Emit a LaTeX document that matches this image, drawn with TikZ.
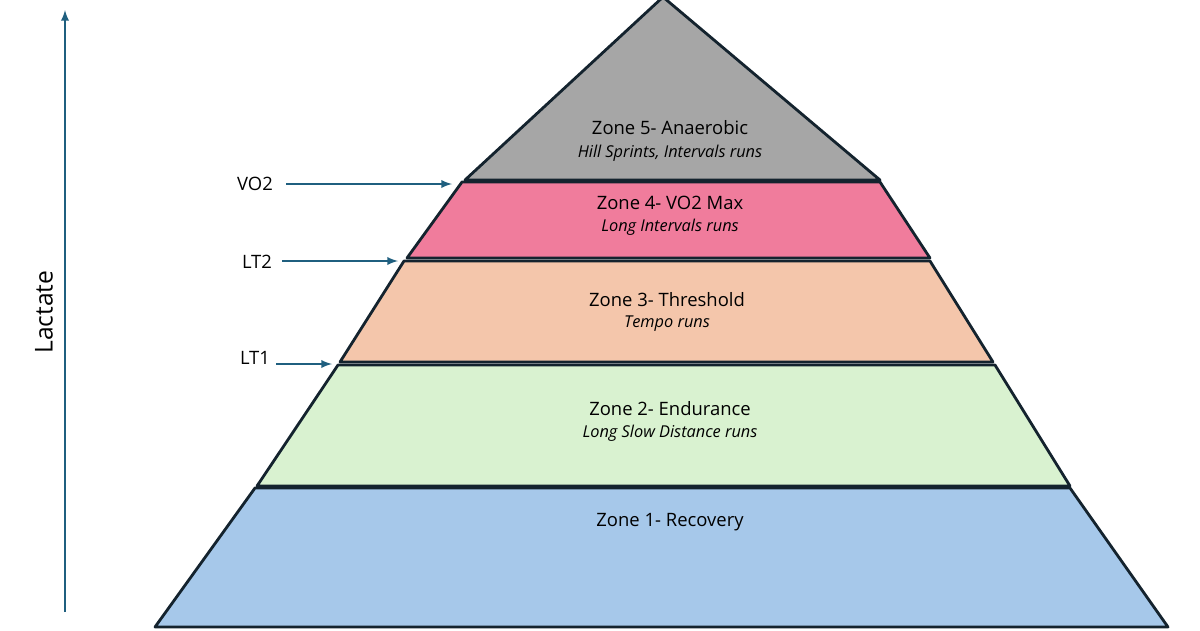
\documentclass[tikz,border=0pt]{standalone}
\usepackage{fontspec}
\setmainfont{Open Sans}
\definecolor{edge}{HTML}{14232E}
\definecolor{arr}{HTML}{1F5F7F}
\definecolor{zfive}{HTML}{A6A6A6}
\definecolor{zfour}{HTML}{F07C9C}
\definecolor{zthree}{HTML}{F4C6AB}
\definecolor{ztwo}{HTML}{D9F2D0}
\definecolor{zone}{HTML}{A6C8EA}
\tikzset{
  band/.style={draw=edge,line width=1.6pt,line join=round},
  title/.style={font=\fontsize{10.5}{12}\selectfont},
  sub/.style={font=\fontsize{9.3}{11}\selectfont\itshape},
  level/.style={font=\fontsize{10.5}{12}\selectfont},
  pointer/.style={draw=arr,line width=1.1pt,-latex}
}
\begin{document}
\begin{tikzpicture}[x=0.02cm,y=-0.02cm]
                \useasboundingbox (0,0) rectangle (1200,630);
                % bands, top to bottom
                \filldraw[band,fill=zfive]
                    (663,-3) -- (880,180) -- (465,180) -- cycle;
                \filldraw[band,fill=zfour]
                    (462,182) -- (880,182) -- (930,258) -- (407,258) -- cycle;
                \filldraw[band,fill=zthree]
                    (404,261) -- (930,261) -- (993,362) -- (340,362) -- cycle;
                \filldraw[band,fill=ztwo]
                    (338,365) -- (995,365) -- (1070,486) -- (257,486) -- cycle;
                \filldraw[band,fill=zone]
                    (255,488) -- (1070,488) -- (1168,627) -- (155,627) -- cycle;
                % zone texts
                \node[title] (z5) at (670,128) {Zone 5- Anaerobic};
                \node[sub] (s5) at (670,153) {Hill Sprints, Intervals runs};
                \node[title] (z4) at (670,203) {Zone 4- VO2 Max};
                \node[sub] (s4) at (670,227) {Long Intervals runs};
                \node[title] (z3) at (667,300) {Zone 3- Threshold};
                \node[sub] (s3) at (667,324) {Tempo runs};
                \node[title] (z2) at (670,409) {Zone 2- Endurance};
                \node[sub] (s2) at (670,433) {Long Slow Distance runs};
                \node[title] (z1) at (670,522) {Zone 1- Recovery};
                % thresholds
                \node[level] (vo) at (255,184) {VO2};
                \node[level] (ltb) at (257,262) {LT2};
                \node[level] (lta) at (255,358) {LT1};
                \coordinate (vos) at (286,184);
                \coordinate (vop) at (452,184);
                \coordinate (ltbs) at (282,261);
                \coordinate (ltbp) at (398,261);
                \coordinate (ltas) at (276,364);
                \coordinate (ltap) at (332,364);
                \draw[pointer] (vos) -- (vop);
                \draw[pointer] (ltbs) -- (ltbp);
                \draw[pointer] (ltas) -- (ltap);
                % axis
                \coordinate (ax0) at (65,612);
                \coordinate (ax1) at (65,10);
                \draw[pointer] (ax0) -- (ax1);
                \node[rotate=90,font=\fontsize{14}{16}\selectfont] (lac) at (44,312) {Lactate};
            \end{tikzpicture}
\end{document}
